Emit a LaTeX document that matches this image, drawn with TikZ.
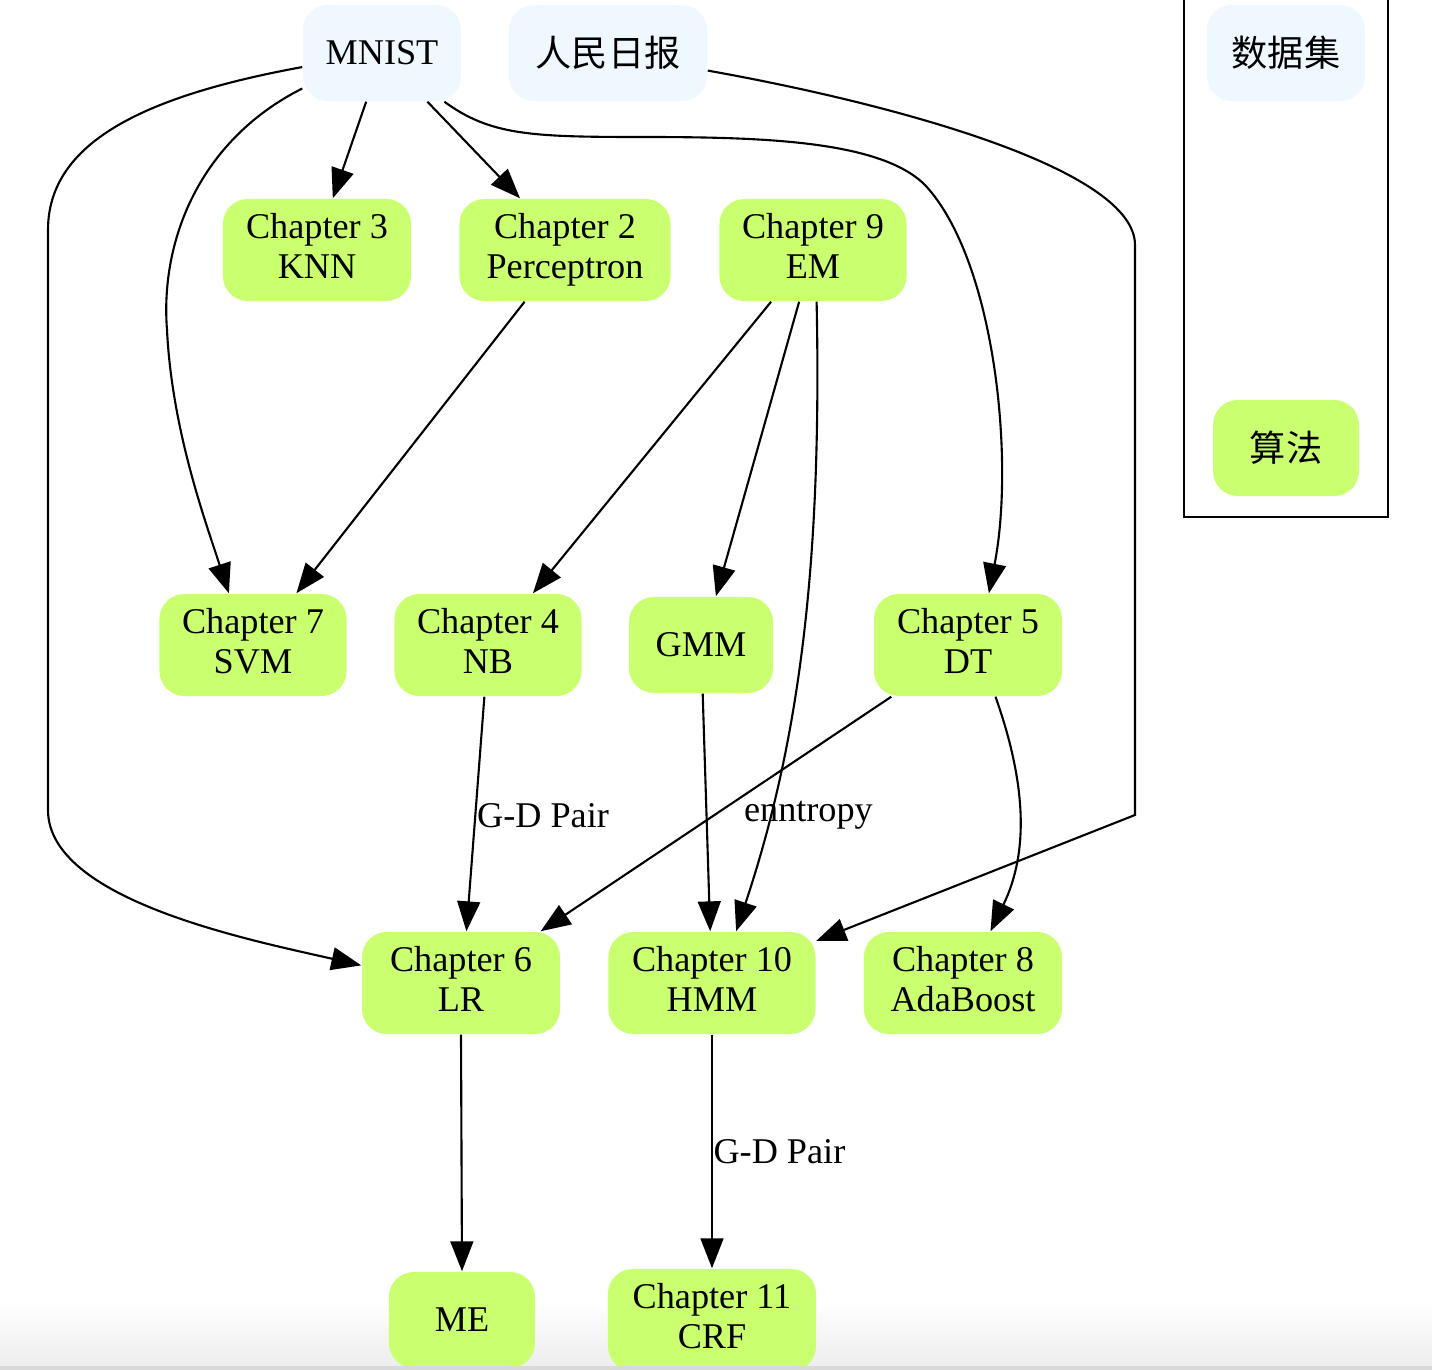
\documentclass[tikz,border=0pt]{standalone}
\usepackage{fontspec}
\setmainfont{Liberation Serif}
\newfontfamily\cjk{Noto Sans CJK SC}
\usepackage{tikz}
\usetikzlibrary{arrows.meta,positioning,calc}
\definecolor{DataBlue}{HTML}{F0F8FF}
\definecolor{AlgoGreen}{HTML}{CAFF70}

\tikzset{
  box/.style={rounded corners=0.25cm,inner sep=0pt,align=center,
    font=\fontsize{10.3}{11.4}\selectfont},
  dataset/.style={box,fill=DataBlue,minimum height=0.96cm},
  algo/.style={box,fill=AlgoGreen,minimum height=0.96cm},
  chapter/.style={algo,minimum height=1.02cm,execute at end node=\vphantom{p}},
  link/.style={draw,line width=0.6pt,-{Triangle[length=8.5pt,width=6.5pt]}},
  elabel/.style={font=\fontsize{10.3}{11.4}\selectfont,inner sep=1pt,anchor=west}
}

\begin{document}
\begin{tikzpicture}[x=0.01cm,y=-0.01cm]
  \useasboundingbox (0,0) rectangle (1432,1370);
  \shade[top color=white,bottom color=black!7] (0,1300) rectangle (1432,1366);

  % datasets
  \node[dataset,minimum width=1.58cm] (mnist) at (382,53) {MNIST};
  \node[dataset,minimum width=1.98cm] (rmrb) at (608,53) {\cjk 人民日报};

  % legend
  \draw[line width=0.6pt] (1184,-10) rectangle (1388,517);
  \node[dataset,minimum width=1.58cm] (legdata) at (1286,53) {\cjk 数据集};
  \node[algo,minimum width=1.46cm] (legalgo) at (1286,448) {\cjk 算法};

  % chapters
  \node[chapter,minimum width=1.88cm] (knn) at (317,250) {Chapter 3\\KNN};
  \node[chapter,minimum width=2.11cm] (perceptron) at (565,250) {Chapter 2\\Perceptron};
  \node[chapter,minimum width=1.87cm] (em) at (813,250) {Chapter 9\\EM};
  \node[chapter,minimum width=1.87cm] (svm) at (253,645) {Chapter 7\\SVM};
  \node[chapter,minimum width=1.87cm] (nb) at (488,645) {Chapter 4\\NB};
  \node[algo,minimum width=1.44cm] (gmm) at (701,645) {GMM};
  \node[chapter,minimum width=1.88cm] (dt) at (968,645) {Chapter 5\\DT};
  \node[chapter,minimum width=1.98cm] (lr) at (461,983) {Chapter 6\\LR};
  \node[chapter,minimum width=2.07cm] (hmm) at (712,983) {Chapter 10\\HMM};
  \node[chapter,minimum width=1.98cm] (adaboost) at (963,983) {Chapter 8\\AdaBoost};
  \node[algo,minimum width=1.46cm] (me) at (462,1320) {ME};
  \node[chapter,minimum width=2.08cm] (crf) at (712,1320) {Chapter 11\\CRF};

  % edges from MNIST
  \draw[link] (mnist.-108) -- (knn.73);
  \draw[link] (mnist.-47) -- (perceptron.131);
  \draw[link] (mnist.-156) .. controls (200,140) and (160,240) .. (167,330)
    .. controls (172,430) and (205,520) .. (svm.115);
  \draw[link] (mnist.-170) .. controls (150,95) and (48,140) .. (48,230)
    -- (48,810) .. controls (48,900) and (250,940) .. (lr.170);
  \draw[link] (mnist.-38) .. controls (490,135) and (530,137) .. (640,137)
    .. controls (760,137) and (880,140) .. (925,185)
    .. controls (995,260) and (1015,460) .. (dt.68);
  \draw[link] (rmrb.-10) .. controls (900,105) and (1135,170) .. (1135,245)
    -- (1135,815) -- (hmm.22);

  % edges between chapters
  \draw[link] (perceptron.-128) -- (svm.50);
  \draw[link] (em.-129) -- (nb.49);
  \draw[link] (em.-105) -- (gmm.73);
  \draw[link] (em.-86) .. controls (822,560) and (800,740) .. (hmm.65);
  \draw[link] (nb.-94) -- node[elabel,pos=0.49,xshift=-3*0.01cm,yshift=-4*0.01cm] {G-D Pair} (lr.84);
  \draw[link] (gmm.-88) -- (hmm.92);
  \draw[link] (dt.-146) -- node[elabel,pos=0.49,xshift=20*0.01cm,yshift=-4*0.01cm] {enntropy} (lr.33);
  \draw[link] (dt.-62) .. controls (1025,780) and (1030,850) .. (adaboost.62);
  \draw[link] (lr.south) -- (me.north);
  \draw[link] (hmm.south) -- node[elabel,pos=0.5,xshift=-3*0.01cm] {G-D Pair} (crf.north);

  \fill[black!15] (0,1366) rectangle (1432,1370);
\end{tikzpicture}
\end{document}
